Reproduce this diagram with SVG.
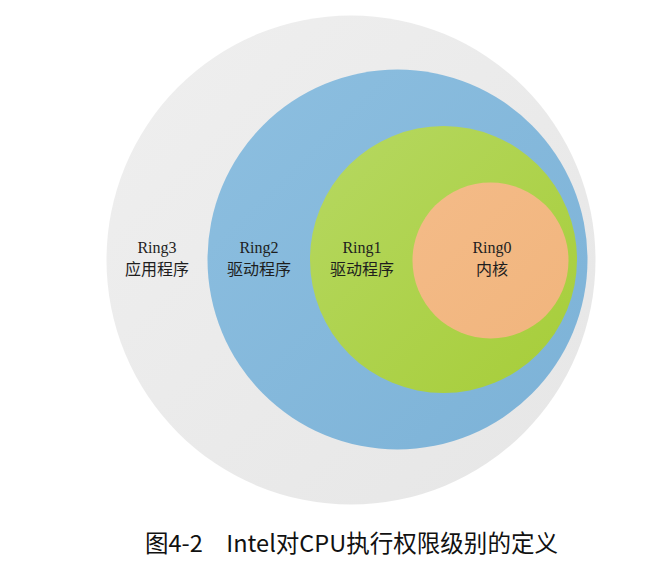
<svg xmlns="http://www.w3.org/2000/svg" width="669" height="578" viewBox="0 0 669 578">
  <style>
    .lbl { font-family: "Liberation Serif", "Noto Sans CJK SC", serif; font-size: 16px; fill: #1e1e1e; text-anchor: middle; }
    .cjk { font-family: "Noto Sans CJK SC", "Liberation Serif", serif; font-size: 16px; fill: #1e1e1e; text-anchor: middle; }
    .cap { font-family: "Noto Sans CJK SC", "Open Sans", sans-serif; font-size: 23.5px; fill: #111111; }
  </style>
  <defs>
    <linearGradient id="gGray" x1="0" y1="0" x2="1" y2="1">
      <stop offset="0" stop-color="#efefef"/>
      <stop offset="1" stop-color="#e6e6e6"/>
    </linearGradient>
    <linearGradient id="gBlue" x1="0" y1="0" x2="1" y2="1">
      <stop offset="0" stop-color="#8dbfe0"/>
      <stop offset="1" stop-color="#7cb2d7"/>
    </linearGradient>
    <linearGradient id="gGreen" x1="0" y1="0" x2="1" y2="1">
      <stop offset="0" stop-color="#b6d862"/>
      <stop offset="1" stop-color="#a6cd38"/>
    </linearGradient>
    <linearGradient id="gOrange" x1="0" y1="0" x2="1" y2="1">
      <stop offset="0" stop-color="#f4bb88"/>
      <stop offset="1" stop-color="#f1b57d"/>
    </linearGradient>
  </defs>
  <rect width="669" height="578" fill="#ffffff"/>
  <g id="ring3">
    <circle cx="351" cy="260" r="244.5" fill="url(#gGray)"/>
    <text class="lbl" x="157" y="253" fill="#333">Ring3</text>
    <text class="cjk" x="157" y="275">应用程序</text>
  </g>
  <g id="ring2">
    <circle cx="397.5" cy="259.5" r="190" fill="url(#gBlue)"/>
    <text class="lbl" x="259" y="253">Ring2</text>
    <text class="cjk" x="259" y="275">驱动程序</text>
  </g>
  <g id="ring1">
    <circle cx="443.5" cy="259.5" r="133.5" fill="url(#gGreen)"/>
    <text class="lbl" x="362" y="253">Ring1</text>
    <text class="cjk" x="362" y="275">驱动程序</text>
  </g>
  <g id="ring0">
    <circle cx="490.5" cy="260.5" r="78" fill="url(#gOrange)"/>
    <text class="lbl" x="492" y="253">Ring0</text>
    <text class="cjk" x="492" y="275">内核</text>
  </g>
  <g id="connectors"/>
  <g id="caption">
    <text class="cap" x="145" y="552" textLength="413" lengthAdjust="spacingAndGlyphs">图4-2　Intel对CPU执行权限级别的定义</text>
  </g>
</svg>
